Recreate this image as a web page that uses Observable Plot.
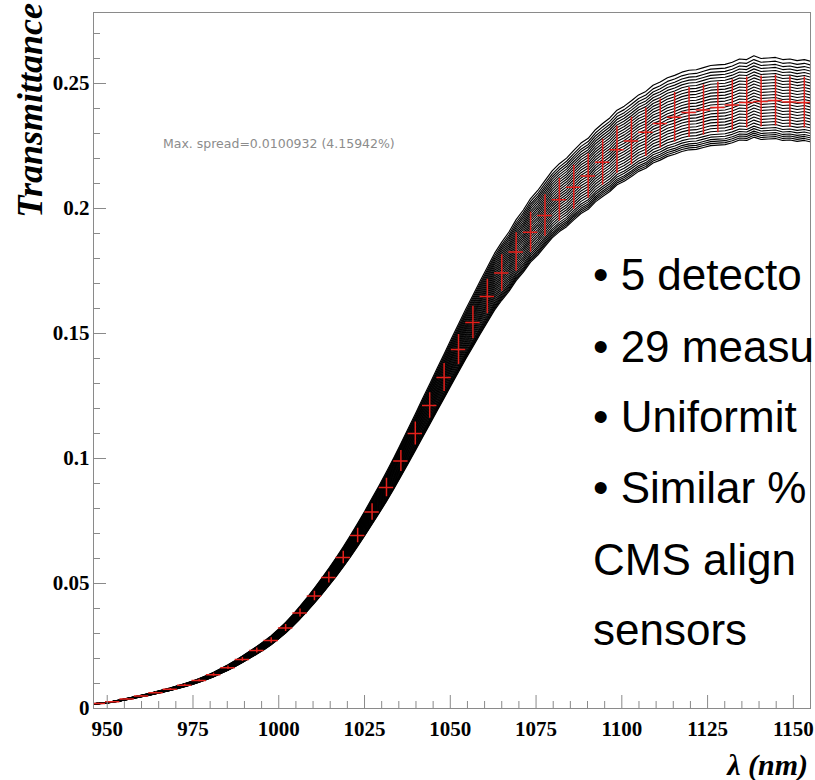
<!DOCTYPE html>
<html><head><meta charset="utf-8">
<script src="https://cdn.jsdelivr.net/npm/d3@7"></script>
<script src="https://cdn.jsdelivr.net/npm/@observablehq/plot@0.6"></script>
<style>
html,body{margin:0;padding:0;background:#fff;overflow:hidden;width:815px;height:780px;}
#chart{position:relative;width:815px;height:780px;overflow:hidden;}
</style></head><body><div id="chart"></div>
<script>
// Red mean points (wavelength, transmittance, error)
const meanLambda = [947.4,951.6,955.8,960.0,964.2,968.4,972.6,976.8,981.0,985.2,989.4,993.6,997.8,1002.0,1006.2,1010.4,1014.6,1018.8,1023.0,1027.2,1031.4,1035.6,1039.8,1044.0,1048.2,1052.4,1056.6,1060.8,1065.0,1069.2,1073.4,1077.6,1081.8,1086.0,1090.2,1094.4,1098.6,1102.8,1107.0,1111.2,1115.4,1119.6,1123.8,1128.0,1132.2,1136.4,1140.6,1144.8,1149.0,1153.2];
const meanT = [0.0020,0.0027,0.0038,0.0050,0.0063,0.0077,0.0093,0.0112,0.0135,0.0163,0.0196,0.0232,0.0272,0.0322,0.0382,0.0450,0.0524,0.0604,0.0692,0.0786,0.0884,0.0990,0.1100,0.1212,0.1324,0.1436,0.1544,0.1648,0.1742,0.1826,0.1905,0.1972,0.2035,0.2085,0.2130,0.2185,0.2235,0.2270,0.2305,0.2340,0.2365,0.2384,0.2394,0.2404,0.2414,0.2424,0.2428,0.2432,0.2426,0.2424];
const meanErr = [0.0001,0.0001,0.0002,0.0002,0.0003,0.0003,0.0004,0.0005,0.0006,0.0007,0.0008,0.0010,0.0011,0.0014,0.0016,0.0019,0.0022,0.0025,0.0029,0.0033,0.0037,0.0042,0.0046,0.0051,0.0056,0.0060,0.0065,0.0069,0.0073,0.0077,0.0080,0.0083,0.0085,0.0088,0.0089,0.0092,0.0094,0.0095,0.0097,0.0098,0.0099,0.0100,0.0101,0.0101,0.0101,0.0102,0.0102,0.0102,0.0102,0.0102];
const binHalfWidth = 2.1;

// Black measurement curves: common shape + level of each curve at 1140.6 nm
const curveLambda = [945.9,947.4,949.5,951.6,953.7,955.8,957.9,960.0,962.1,964.2,966.3,968.4,970.5,972.6,974.7,976.8,978.9,981.0,983.1,985.2,987.3,989.4,991.5,993.6,995.7,997.8,999.9,1002.0,1004.1,1006.2,1008.3,1010.4,1012.5,1014.6,1016.7,1018.8,1020.9,1023.0,1025.1,1027.2,1029.3,1031.4,1033.5,1035.6,1037.7,1039.8,1041.9,1044.0,1046.1,1048.2,1050.3,1052.4,1054.5,1056.6,1058.7,1060.8,1062.9,1065.0,1067.1,1069.2,1071.3,1073.4,1075.5,1077.6,1079.7,1081.8,1083.9,1086.0,1088.1,1090.2,1092.3,1094.4,1096.5,1098.6,1100.7,1102.8,1104.9,1107.0,1109.1,1111.2,1113.3,1115.4,1117.5,1119.6,1121.7,1123.8,1125.9,1128.0,1130.1,1132.2,1134.3,1136.4,1138.5,1140.6,1142.7,1144.8,1146.9,1149.0,1151.1,1153.2,1155.0];
const curveMid = [0.0018,0.0020,0.0023,0.0027,0.0032,0.0038,0.0044,0.0050,0.0056,0.0063,0.0070,0.0077,0.0085,0.0093,0.0102,0.0112,0.0123,0.0135,0.0149,0.0163,0.0179,0.0196,0.0214,0.0232,0.0251,0.0272,0.0296,0.0322,0.0351,0.0382,0.0415,0.0450,0.0486,0.0524,0.0563,0.0604,0.0647,0.0692,0.0738,0.0786,0.0834,0.0884,0.0936,0.0990,0.1045,0.1100,0.1157,0.1212,0.1269,0.1324,0.1381,0.1436,0.1491,0.1544,0.1597,0.1648,0.1700,0.1742,0.1780,0.1826,0.1862,0.1905,0.1935,0.1972,0.2008,0.2035,0.2056,0.2085,0.2112,0.2130,0.2162,0.2185,0.2206,0.2235,0.2250,0.2270,0.2292,0.2305,0.2328,0.2340,0.2356,0.2365,0.2377,0.2384,0.2386,0.2394,0.2402,0.2404,0.2406,0.2414,0.2426,0.2424,0.2438,0.2428,0.2430,0.2432,0.2424,0.2426,0.2420,0.2424,0.2418];
const curveLevels = [0.2600,0.2585,0.2572,0.2560,0.2548,0.2536,0.2524,0.2512,0.2500,0.2488,0.2476,0.2464,0.2452,0.2440,0.2428,0.2416,0.2404,0.2392,0.2380,0.2368,0.2356,0.2344,0.2332,0.2320,0.2310,0.2300,0.2292,0.2284,0.2276];
const levelLambda = 1140.6;

// Axis ticks
const xMajorTicks = [950,975,1000,1025,1050,1075,1100,1125,1150];
const xMinorTicks = [955,960,965,970,980,985,990,995,1005,1010,1015,1020,1030,1035,1040,1045,1055,1060,1065,1070,1080,1085,1090,1095,1105,1110,1115,1120,1130,1135,1140,1145];
const yMajorTicks = [0,0.05,0.1,0.15,0.2,0.25];
const yMinorTicks = [0.01,0.02,0.03,0.04,0.06,0.07,0.08,0.09,0.11,0.12,0.13,0.14,0.16,0.17,0.18,0.19,0.21,0.22,0.23,0.24,0.26,0.27];

// Texts (as visible in the reference, which cuts them at its right edge)
const yTitle = "Transmittance";
const xTitle = "λ (nm)";
const spreadNote = "Max. spread=0.0100932 (4.15942%)";
const bulletLines = ["• 5 detecto","• 29 measu","• Uniformit","• Similar %","CMS align","sensors"];

const W = 815, H = 780, mL = 93, mR = 5, mT = 12, mB = 72;
const fw = W - mL - mR, fh = H - mT - mB;

const refIdx = curveLambda.indexOf(levelLambda);
const curves = curveLevels.flatMap((lev, c) =>
  curveLambda.map((x, j) => ({c, x, t: curveMid[j] * lev / curveMid[refIdx]})));
const red = meanLambda.map((x, i) => ({x, t: meanT[i], e: meanErr[i]}));

const axisColor = "#8a8a8a";
const redColor = "#e3201b";

const plot = Plot.plot({
  width: W, height: H,
  marginLeft: mL, marginRight: mR, marginTop: mT, marginBottom: mB,
  x: {domain: [946, 1155]},
  y: {domain: [0, 0.2784]},
  style: {fontFamily: "Liberation Serif", fontSize: "21px", color: "black", background: "white"},
  marks: [
    Plot.line(curves, {x: "x", y: "t", z: "c", stroke: "black", strokeWidth: 1.15, clip: true}),
    Plot.ruleX(red, {x: "x", y1: d => d.t - d.e, y2: d => d.t + d.e, stroke: redColor, strokeWidth: 1.5, clip: true}),
    Plot.ruleY(red, {y: "t", x1: d => d.x - binHalfWidth, x2: d => d.x + binHalfWidth, stroke: redColor, strokeWidth: 1.5, clip: true}),
    Plot.ruleX(xMajorTicks, {x: d => d, insetTop: fh - 13, stroke: axisColor}),
    Plot.ruleX(xMinorTicks, {x: d => d, insetTop: fh - 7, stroke: axisColor}),
    Plot.ruleY(yMajorTicks, {y: d => d, insetRight: fw - 13, stroke: axisColor}),
    Plot.ruleY(yMinorTicks, {y: d => d, insetRight: fw - 7, stroke: axisColor}),
    Plot.frame({stroke: axisColor}),
    Plot.axisX({ticks: xMajorTicks, tickSize: 0, tickPadding: 13, tickFormat: d => String(d), label: null, fontSize: 21, fontWeight: "bold"}),
    Plot.axisY({ticks: yMajorTicks, tickSize: 0, tickPadding: 4, tickFormat: d => d === 0 ? "0" : String(d), label: null, fontSize: 21, fontWeight: "bold"})
  ]
});
plot.style.overflow = "hidden";
document.getElementById("chart").appendChild(plot);

const svg = d3.select(plot);
svg.append("text")
  .attr("transform", "translate(42,3) rotate(-90)")
  .attr("text-anchor", "end")
  .attr("font-family", "Liberation Serif").attr("font-weight", "bold").attr("font-style", "italic")
  .attr("font-size", 36).attr("fill", "black").text(yTitle);
svg.append("text")
  .attr("x", 808).attr("y", 775).attr("text-anchor", "end")
  .attr("font-family", "Liberation Serif").attr("font-weight", "bold").attr("font-style", "italic")
  .attr("font-size", 30).attr("fill", "black").text(xTitle);
svg.append("text")
  .attr("x", 163).attr("y", 148).attr("text-anchor", "start")
  .attr("font-family", "DejaVu Sans").attr("font-size", 12.5).attr("fill", "#8c8c8c")
  .text(spreadNote);
const baselines = [290, 362, 432, 503, 575, 645];
bulletLines.forEach((s, i) => {
  svg.append("text").attr("x", 593).attr("y", baselines[i]).attr("text-anchor", "start")
    .attr("font-family", "Liberation Sans").attr("font-size", 44).attr("fill", "black")
    .text(s);
});
</script>
</body></html>
